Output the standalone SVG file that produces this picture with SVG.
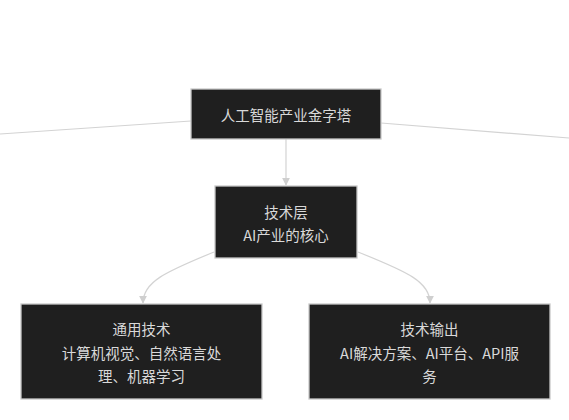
<svg xmlns="http://www.w3.org/2000/svg" width="569" height="420" viewBox="0 0 569 420">
<style>
.node rect{fill:#1f1f1f;stroke:#c8c8c8;stroke-width:1.3}
.node text{fill:#d9d9d9;font-family:"Microsoft YaHei","Noto Sans CJK SC",sans-serif;font-size:14.5px;text-anchor:middle;dominant-baseline:central}
.edge{fill:none;stroke:#d3d3d3;stroke-width:1.2}
</style>
<defs>
<marker id="arr" viewBox="0 0 10 10" refX="9" refY="5" markerWidth="8" markerHeight="8" markerUnits="userSpaceOnUse" orient="auto">
<path d="M0,0 L10,5 L0,10 z" fill="#cfcfcf"/>
</marker>
</defs>
<rect width="569" height="420" fill="#ffffff"/>
<g id="connectors">
<path class="edge" d="M191,121 L0,134"/>
<path class="edge" d="M381,123 L569,138"/>
<path class="edge" d="M286,139 L286,185" marker-end="url(#arr)"/>
<path class="edge" d="M214,252 C165,272 143,282 143,303" marker-end="url(#arr)"/>
<path class="edge" d="M358,252 C408,272 430,282 430,303" marker-end="url(#arr)"/>
</g>
<g id="top" class="node">
<rect x="191" y="89" width="190" height="50"/>
<text x="286" y="114">人工智能产业金字塔</text>
</g>
<g id="tech" class="node">
<rect x="215" y="186" width="142" height="72"/>
<text x="286" y="211">技术层</text>
<text x="286" y="234">AI产业的核心</text>
</g>
<g id="general" class="node">
<rect x="21" y="304" width="241" height="95"/>
<text x="141.5" y="328">通用技术</text>
<text x="141.5" y="352">计算机视觉、自然语言处</text>
<text x="141.5" y="375">理、机器学习</text>
</g>
<g id="output" class="node">
<rect x="309" y="304" width="241" height="95"/>
<text x="429.5" y="328">技术输出</text>
<text x="429.5" y="352">AI解决方案、AI平台、API服</text>
<text x="429.5" y="375">务</text>
</g>
</svg>
